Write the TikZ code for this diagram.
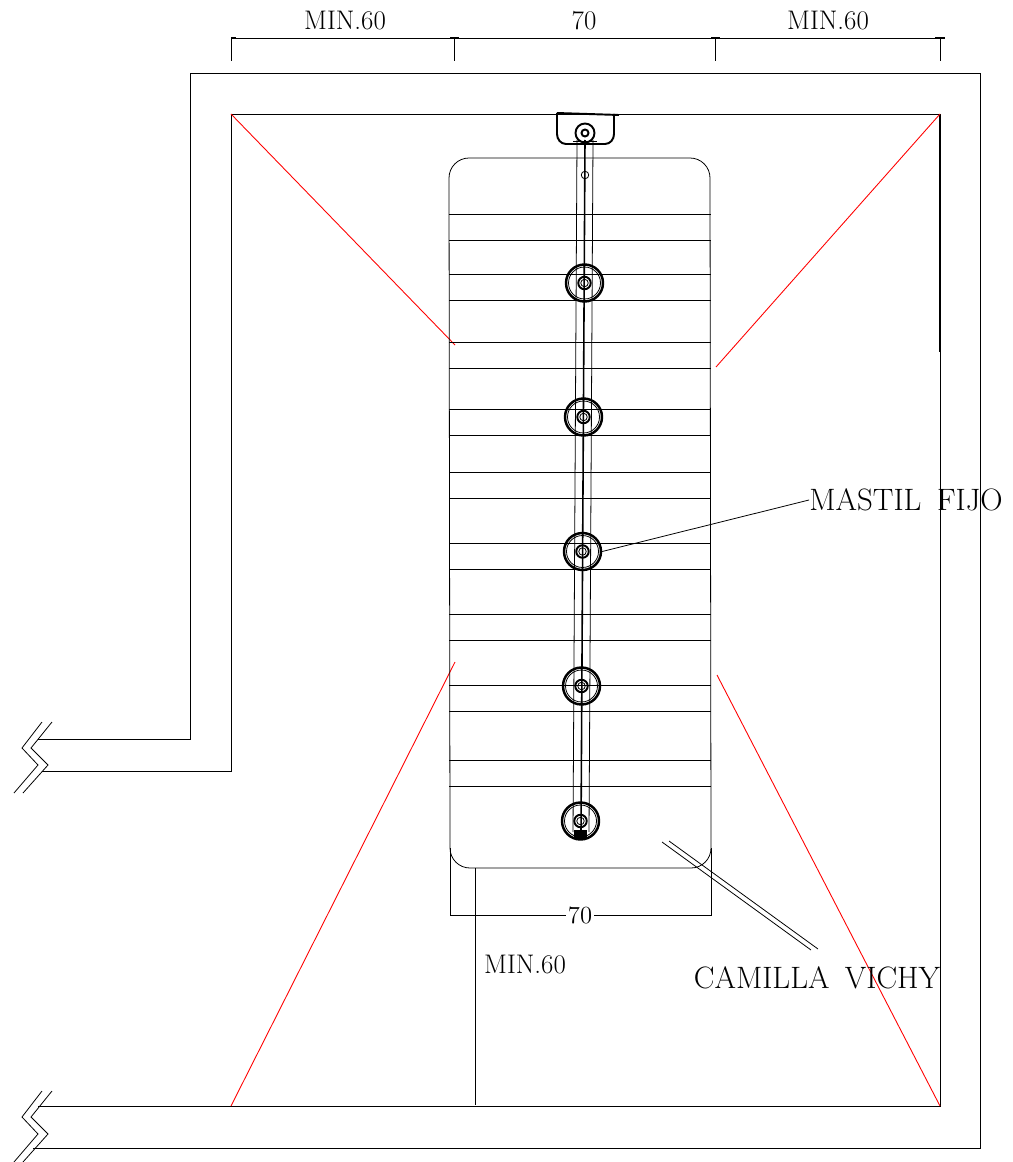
\documentclass[tikz,border=0pt]{standalone}
\usepackage{tikz}
\usetikzlibrary{positioning}
\tikzset{
  linea/.style={line width=0.45pt, black},
  gruesa/.style={line width=1.1pt, black},
  rojo/.style={line width=0.5pt, red},
  cota/.style={font=\fontsize{15.3}{18}\selectfont, inner sep=0pt},
  rotulo/.style={font=\fontsize{17.6}{21}\selectfont, inner sep=0pt},
}
\begin{document}
\begin{tikzpicture}[x=0.02cm, y=-0.02cm]
  \useasboundingbox (0,0) rectangle (1012,1162);
  % muros
  \draw[linea] (38,739) -- (190,739) -- (190,73) -- (980,73) -- (980,1148) -- (33,1148); % exterior
  \draw[linea] (42,771) -- (231,771) -- (231,114) -- (940,114) -- (940,1106) -- (38,1106); % interior
  \draw[gruesa, line width=0.7pt] (940,114) -- (940,352);
  % cortes de muro
  \foreach \yc in {0,369}{
    \draw[linea] (42,722+\yc) -- (22,748+\yc) -- (38,765+\yc) -- (14,793+\yc);
    \draw[linea] (52,722+\yc) -- (31,748+\yc) -- (48,765+\yc) -- (23,793+\yc);
  }
  % lineas rojas
  \draw[rojo] (231,114) -- (455,345);
  \draw[rojo] (940,114) -- (716,367);
  \draw[rojo] (231,1106) -- (455,662);
  \draw[rojo] (940,1106) -- (717,675);
  % camilla
  \draw[linea] (469,158) -- (690,158) to[out=0,in=90] (710,178) -- (711,848) to[out=-90,in=0] (691,868)
    -- (470,868) to[out=180,in=-90] (450,848) -- (449,178) to[out=90,in=180] (469,158);
  \foreach \ya/\yb in {214/240, 274/300, 342/368, 409/435, 472/498, 543/569, 614/640, 685/711, 760/786}{
    \draw[linea] (449,\ya) -- (711,\ya);
    \draw[linea] (449,\yb) -- (711,\yb);
  }
  % mastil
  \draw[linea] (577,140) -- (573,832);
  \draw[linea] (593,140) -- (589,832);
  \draw[gruesa, line width=0.9pt] (585,140) -- (581,832);
  \draw[gruesa] (557,113) -- (557,134) to[out=-90,in=180] (566,144) -- (605,144) to[out=0,in=-90] (614,134) -- (614,114);
  \draw[gruesa] (557,113) -- (619,115);
  \draw[linea] (573,141) -- (597,141);
  \node[circle, draw, gruesa, minimum size=0.38cm, inner sep=0pt] (soporte) at (585,133) {};
  \node[circle, draw, gruesa, minimum size=0.14cm, inner sep=0pt] (eje) at (585,133) {};
  \node[circle, draw, linea, minimum size=0.15cm, inner sep=0pt] (tope) at (585,175) {};
  \foreach \n/\xc/\yc in {a/584.5/283, b/583.5/417, c/582.5/551.5, d/581.5/686, e/580.5/821}{
    \node[circle, draw, gruesa, line width=1.4pt, minimum size=0.74cm, inner sep=0pt] (disco\n) at (\xc,\yc) {};
    \node[circle, draw, linea, minimum size=0.64cm, inner sep=0pt] at (\xc,\yc) {};
    \node[circle, draw, gruesa, minimum size=0.25cm, inner sep=0pt] (buje\n) at (\xc,\yc) {};
    \node[circle, draw, linea, minimum size=0.15cm, inner sep=0pt] at (\xc,\yc) {};
  }
  \fill[black] (574,830) rectangle (587,838);
  % cotas
  \coordinate (cotaa) at (231,38);
  \coordinate (cotad) at (940,38);
  \draw[linea] (cotaa) -- (cotad);
  \foreach \xc in {231,454,715,940}{
    \draw[linea] (\xc,38) -- (\xc,61);
  }
  \foreach \xa/\xb in {231/236, 450/459, 711/720, 935/945}{
    \draw[gruesa] (\xa,38) -- (\xb,38);
  }
  \node[cota] (min1) at (345,21) {MIN.60};
  \node[cota] (setenta) at (584,21) {70};
  \node[cota] (min2) at (828,21) {MIN.60};
  \draw[linea] (450,848) -- (450,915) -- (711,915) -- (711,848);
  \node[cota, fill=white, inner xsep=1pt, font=\fontsize{14}{16}\selectfont] (ancho) at (580,915) {70};
  \draw[linea] (475,868) -- (475,1105);
  \node[cota] (min3) at (525,965) {MIN.60};
  % rotulos
  \node[rotulo] (mastilfijo) at (906,500) {MASTIL\hspace{0.5em}FIJO};
  \draw[linea] (discoc.east) -- (mastilfijo.west);
  \node[rotulo] (vichy) at (817,978) {CAMILLA\hspace{0.5em}VICHY};
  \draw[linea] (662,842) -- (811,950);
  \draw[linea] (669,841) -- (818,949);
\end{tikzpicture}
\end{document}
